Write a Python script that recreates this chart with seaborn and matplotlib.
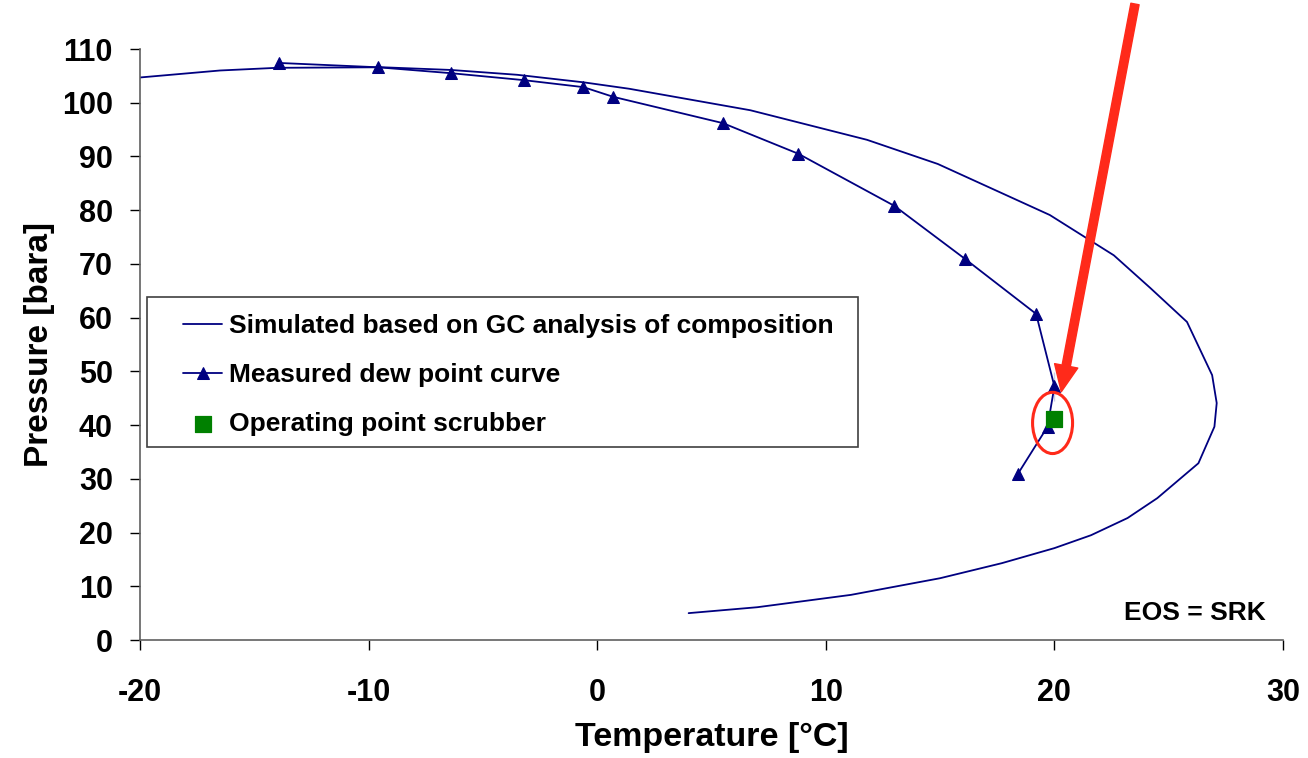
import numpy as np
import pandas as pd
import seaborn as sns
import matplotlib.pyplot as plt
from matplotlib.patches import Ellipse, Rectangle

# simulated phase envelope (GC composition, SRK)
sim_temp = [-20.0, -16.5, -14.0, -9.4, -6.4, -3.5, -0.6, 1.4, 6.7, 11.8, 14.9,
            19.8, 22.6, 24.2, 25.8, 26.9, 27.1, 27.0, 26.3, 24.5, 23.2, 21.6,
            20.0, 17.7, 15.0, 11.1, 7.0, 4.0]
sim_pres = [104.7, 106.0, 106.5, 106.6, 106.1, 105.2, 103.8, 102.6, 98.6, 93.1, 88.6,
            79.1, 71.6, 65.5, 59.2, 49.3, 44.1, 39.7, 32.9, 26.4, 22.7, 19.5,
            17.1, 14.3, 11.5, 8.4, 6.1, 5.0]

# measured dew point curve
meas_temp = [-13.9, -9.6, -6.4, -3.2, -0.6, 0.7, 5.5, 8.8, 13.0, 16.1, 19.2,
             20.0, 20.0, 19.7, 18.4]
meas_pres = [107.4, 106.6, 105.5, 104.2, 102.9, 101.1, 96.2, 90.5, 80.8, 70.9, 60.7,
             49.9, 44.5, 39.7, 30.9]

# operating point of the scrubber
op_temp = [20.0]
op_pres = [41.1]

sim = pd.DataFrame({"T": sim_temp, "P": sim_pres})
meas = pd.DataFrame({"T": meas_temp, "P": meas_pres})
op = pd.DataFrame({"T": op_temp, "P": op_pres})

sns.set_style("ticks")
plt.rcParams['font.family'] = ['Liberation Sans', 'DejaVu Sans']
plt.rcParams['font.weight'] = 'bold'
plt.rcParams['axes.unicode_minus'] = False
for key in ['text.color', 'axes.labelcolor', 'xtick.color', 'ytick.color']:
    plt.rcParams[key] = 'black'

navy = "#000080"
red = "#ff2a1a"

fig = plt.figure(figsize=(13.08, 7.58), dpi=100)
ax = fig.add_axes([140 / 1308, 118 / 758, 1143 / 1308, 591 / 758])

sns.lineplot(data=sim, x="T", y="P", sort=False, color=navy, lw=1.3,
             label="Simulated based on GC analysis of composition", ax=ax)
sns.lineplot(data=meas, x="T", y="P", sort=False, color=navy, lw=1.3,
             marker="^", markersize=9, markeredgecolor=navy,
             label="Measured dew point curve", ax=ax)
sns.scatterplot(data=op, x="T", y="P", color="#008000", marker="s", s=120,
                edgecolor="#008000", label="Operating point scrubber",
                ax=ax, zorder=5)

ax.add_patch(Ellipse((19.92, 40.4), width=1.75, height=11.4, fill=False,
                     edgecolor=red, lw=2.2, zorder=6))
ax.annotate("", xy=(20.3, 46.2), xycoords="data",
            xytext=(1135 / 1308, 1 - 4 / 758), textcoords="figure fraction",
            arrowprops=dict(arrowstyle="simple,head_length=0.95,head_width=0.85,tail_width=0.3",
                            mutation_scale=20, color=red, shrinkA=0, shrinkB=0),
            annotation_clip=False, zorder=7)

ax.text(29.25, 3.7, "EOS = SRK", ha="right", va="baseline",
        fontsize=19, fontweight="bold")

ax.set_xlim(-20, 30)
ax.set_ylim(0, 110)
ax.set_xticks(np.arange(-20, 31, 10))
ax.set_yticks(np.arange(0, 111, 10))
ax.tick_params(axis="both", labelsize=22, length=7.5, width=1, color="black",
               direction="out")
ax.tick_params(axis="x", pad=20)
ax.tick_params(axis="y", pad=12)
ax.set_xlabel("Temperature [°C]", fontsize=24.5, fontweight="bold", labelpad=10)
ax.set_ylabel("Pressure [bara]", fontsize=24, fontweight="bold", labelpad=5)
sns.despine(ax=ax)
for side in ["left", "bottom"]:
    ax.spines[side].set_color("#606060")
    ax.spines[side].set_linewidth(1.2)

# legend box drawn separately, Excel style (wide left margin)
ax.add_patch(Rectangle((7 / 1143, 193 / 591), 711 / 1143, 150 / 591,
                       transform=ax.transAxes, facecolor="white",
                       edgecolor="#404040", lw=1.2, zorder=8))
leg = ax.legend(loc="upper left", bbox_to_anchor=(43 / 1143, 326 / 591),
                borderaxespad=0, borderpad=0, frameon=False,
                prop={"weight": "bold", "size": 19}, handlelength=1.48,
                handletextpad=0.27, labelspacing=0.95)
leg.set_zorder(9)

plt.savefig("out.png", dpi=100)
